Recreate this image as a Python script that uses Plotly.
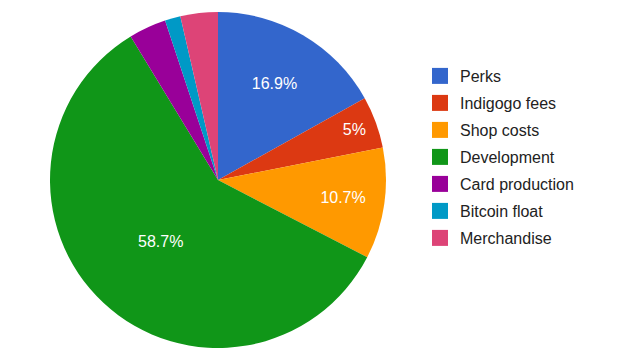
import plotly.graph_objects as go

labels = ["Perks", "Indigogo fees", "Shop costs", "Development",
          "Card production", "Bitcoin float", "Merchandise"]
values = [16.9, 5.0, 10.7, 58.7, 3.6, 1.5, 3.6]
colors = ["#3366cc", "#dc3912", "#ff9900", "#109618",
          "#990099", "#0099c6", "#dd4477"]
slice_text = [f"{v:g}%" if v >= 5 else "" for v in values]

W, H = 618, 360
font = "Liberation Sans, Arial, sans-serif"

fig = go.Figure()
fig.add_trace(go.Pie(
    labels=labels, values=values, sort=False, direction="clockwise",
    rotation=0, text=slice_text, textinfo="text", textposition="inside",
    insidetextorientation="horizontal",
    textfont=dict(family=font, size=16, color="white"),
    marker=dict(colors=colors, line=dict(width=0)),
    showlegend=False, hoverinfo="label+percent",
    domain=dict(x=[(218 - 168) / W, (218 + 168) / W],
                y=[(360 - 348) / H, (360 - 12) / H]),
))
for lab, col in zip(labels, colors):
    fig.add_trace(go.Scatter(
        x=[None], y=[None], mode="markers", name=lab, legendgroup=lab,
        marker=dict(symbol="square", size=16, color=col),
    ))

fig.update_layout(
    width=W, height=H, margin=dict(l=0, r=0, t=0, b=0),
    paper_bgcolor="white", plot_bgcolor="white",
    xaxis=dict(visible=False), yaxis=dict(visible=False),
    legend=dict(x=(420) / W, y=1 - 59 / H, xanchor="left", yanchor="top",
                font=dict(family=font, size=16, color="#222222"),
                tracegroupgap=3.2, bgcolor="rgba(0,0,0,0)"),
)
fig.write_html("out.html")
